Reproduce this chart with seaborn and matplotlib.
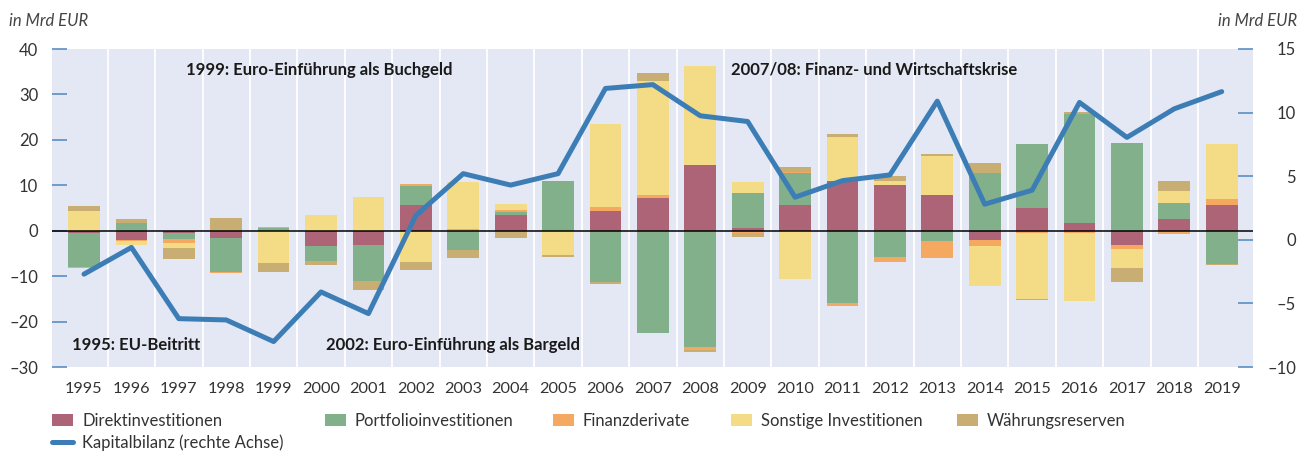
import numpy as np
import matplotlib
matplotlib.use("Agg")
import matplotlib.pyplot as plt
from matplotlib.patches import Patch
from matplotlib.lines import Line2D
import seaborn as sns

# Kapitalbilanz Österreich, in Mrd EUR
years = [str(y) for y in range(1995, 2020)]

direkt = [-0.5, -2.0, -0.6, -1.6, 0.0, -3.4, -3.1, 5.7, 0.0, 3.4, 0.0, 4.4, 7.2,
          14.5, 0.7, 5.7, 11.0, 10.1, 7.8, -2.0, 5.1, 1.8, -3.1, 2.6, 5.6]
portfolio = [-7.5, 1.75, -1.2, -7.4, 0.5, -3.2, -8.0, 4.2, -4.2, 0.7, 11.0, -11.3, -22.6,
             -25.5, 7.5, 6.9, -15.9, -5.8, -2.2, 12.6, 14.0, 23.9, 19.2, 3.5, -7.4]
derivate = [-0.3, -0.2, -0.8, -0.2, 0.3, 0.0, 0.0, 0.3, 0.3, 0.5, 0.0, 0.9, 0.7,
            -0.7, -0.4, 0.3, -0.7, -1.0, -3.9, -1.4, -0.6, -0.4, -0.9, -0.7, 1.4]
sonstige = [4.4, -1.0, -1.1, 0.0, -7.2, 3.4, 7.5, -6.9, 10.5, 1.2, -5.4, 18.3, 25.0,
            21.8, 2.6, -10.7, 9.6, 0.9, 8.6, -8.7, -14.4, -15.1, -4.3, 2.7, 12.1]
waehrung = [1.0, 0.9, -2.6, 2.85, -1.9, -0.9, -2.0, -1.7, -1.8, -1.7, -0.3, -0.5, 1.9,
            -0.4, -0.9, 1.1, 0.7, 1.0, 0.4, 2.2, -0.3, 0.4, -3.0, 2.1, -0.2]
kapitalbilanz = [-2.7, -0.6, -6.2, -6.3, -8.0, -4.1, -5.8, 1.9, 5.2, 4.3, 5.2, 11.9, 12.2,
                 9.75, 9.3, 3.35, 4.65, 5.1, 10.9, 2.8, 3.9, 10.8, 8.05, 10.3, 11.65]

components = ["Direktinvestitionen", "Portfolioinvestitionen", "Finanzderivate",
              "Sonstige Investitionen", "Währungsreserven"]
series = [direkt, portfolio, derivate, sonstige, waehrung]
colors = ["#ad6476", "#82b08a", "#f5a85f", "#f4dc86", "#c9ae73"]
line_color = "#3d7db6"

sns.set_style("white")
plt.rcParams["font.family"] = ["Lato", "DejaVu Sans"]
plt.rcParams["axes.unicode_minus"] = True
text_col = "#333333"

fig = plt.figure(figsize=(13.11, 4.54), dpi=100)
W, H = 1311, 454
ax = fig.add_axes([52 / W, 1 - 367 / H, (1253 - 52) / W, (367 - 49) / H])
ax.set_facecolor("#e3e8f4")

# stacked bars, positives and negatives stacked separately
pos_cum = np.zeros(len(years))
neg_cum = np.zeros(len(years))
for vals, col in zip(series, colors):
    v = np.array(vals)
    bottom = np.where(v >= 0, pos_cum, neg_cum)
    sns.barplot(x=years, y=v, bottom=bottom, color=col, width=0.67,
                errorbar=None, linewidth=0, saturation=1, ax=ax)
    pos_cum += np.clip(v, 0, None)
    neg_cum += np.clip(v, None, 0)

ax.axhline(0, color="black", lw=1.1, zorder=4)
for xg in np.arange(0.5, 24, 1):
    ax.axvline(xg, color="white", lw=1.3, zorder=0)
ax.set_axisbelow(True)

ax.set_xlim(-0.675, 24.66)
ax.set_ylim(-30, 40)
ax.set_yticks(range(-30, 41, 10))
ax.set_yticklabels(["\u201330", "\u201320", "\u201310", "0", "10", "20", "30", "40"])
ax.tick_params(axis="y", direction="in", length=11, width=1.2, color="#5b8fc4",
               pad=10, labelsize=12, labelcolor=text_col)
ax.tick_params(axis="x", length=0, pad=11, labelsize=11.7, labelcolor=text_col)
ax.set_xlabel("")
ax.set_ylabel("")
for s in ax.spines.values():
    s.set_visible(False)

# Kapitalbilanz on right axis
ax2 = ax.twinx()
sns.lineplot(x=np.arange(len(years)), y=kapitalbilanz, color=line_color, lw=3.6,
             legend=False, ax=ax2)
ax2.set_xlim(-0.675, 24.66)
ax2.set_ylim(-10, 15)
ax2.set_yticks(range(-10, 16, 5))
ax2.set_yticklabels(["\u201310", "\u20135", "0", "5", "10", "15"])
ax2.tick_params(axis="y", direction="in", length=11, width=1.2, color="#5b8fc4",
                pad=31, labelsize=12, labelcolor=text_col)
for lab in ax2.get_yticklabels():
    lab.set_horizontalalignment("right")
ax2.set_ylabel("")
for s in ax2.spines.values():
    s.set_visible(False)

# event notes
note_kw = dict(fontsize=12, fontweight="bold", color="#1a1a1a", va="baseline", zorder=6)
ax.text(2.15, 34.3, "1999: Euro-Einführung als Buchgeld", **note_kw)
ax.text(13.64, 34.3, "2007/08: Finanz- und Wirtschaftskrise", **note_kw)
ax.text(-0.25, -26.2, "1995: EU-Beitritt", **note_kw)
ax.text(5.1, -26.2, "2002: Euro-Einführung als Bargeld", **note_kw)

fig.text(9 / W, 1 - 21 / H, "in Mrd EUR", fontsize=12, style="italic",
         color="#444444", va="center", ha="left")
fig.text(1297 / W, 1 - 21 / H, "in Mrd EUR", fontsize=12, style="italic",
         color="#444444", va="center", ha="right")

# legend, one entry at a time to match the spacing
entries = [(Patch(facecolor=c, edgecolor="none"), n) for c, n in zip(colors, components)]
entries.append((Line2D([], [], color=line_color, lw=3.6), "Kapitalbilanz (rechte Achse)"))
spots = [(52, 421), (325, 421), (553, 421), (731, 421), (957, 421), (52, 443)]
for (h, name), (px, py) in zip(entries, spots):
    fig.legend(handles=[h], labels=[name], loc="center left",
               bbox_to_anchor=(px / W, 1 - py / H), frameon=False,
               borderpad=0, borderaxespad=0, handlelength=1.25, handleheight=0.75,
               handletextpad=0.55, fontsize=12, labelcolor=text_col)

fig.savefig("out.png", dpi=100)
